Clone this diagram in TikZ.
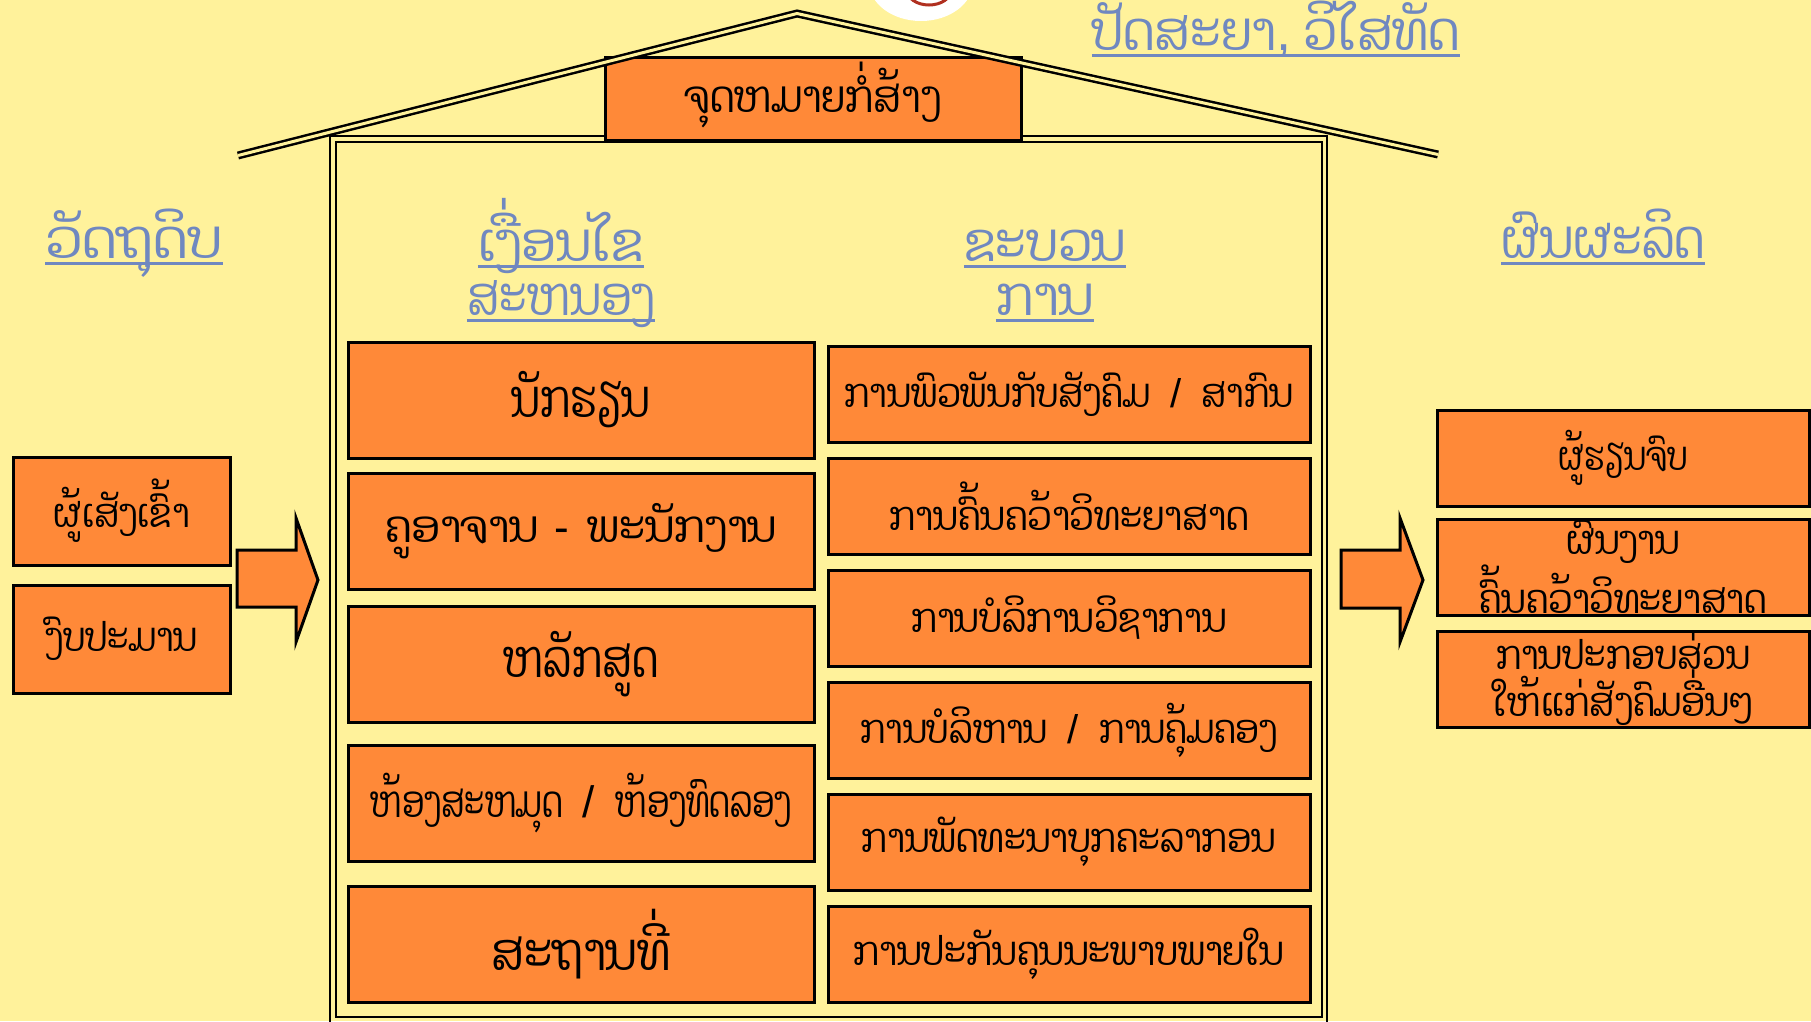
\documentclass[tikz,border=0pt]{standalone}
\usepackage{fontspec}
\setmainfont[Script=Lao]{Dhyana}
\newfontfamily\latf{Liberation Sans}
\definecolor{bgY}{RGB}{255,242,155}
\definecolor{boxO}{RGB}{255,137,56}
\definecolor{hdB}{RGB}{112,136,192}
\definecolor{logoR}{RGB}{176,48,32}
\begin{document}
\begin{tikzpicture}[x=1pt,y=-1pt,
  obox/.style={draw=black, line width=3pt, fill=boxO, inner sep=0pt, align=center},
  lcol/.style={obox, minimum width=466pt, minimum height=116pt},
  rcol/.style={obox, minimum width=482pt, minimum height=96pt},
  sbox/.style={obox, minimum width=217pt, minimum height=108pt},
  obx/.style={obox, minimum width=372pt, minimum height=96pt},
  fs/.style n args={3}{font=\fontsize{#1}{#2}\selectfont\addfontfeatures{FakeStretch=#3}},
  hd/.style={text=hdB, inner sep=0pt, anchor=base},
  ul/.style={draw=hdB, line width=3pt},
  blk/.style={draw=black, line width=3pt, fill=boxO, line join=miter}
]
\fill[bgY] (0,0) rectangle (1811,1021);
\useasboundingbox (0,0) rectangle (1811,1021);
\clip (0,0) rectangle (1811,1021);
% logo fragment
\fill[white] (921,-18) ellipse [x radius=52, y radius=39];
\draw[logoR, line width=3pt] (929,-10) ellipse [x radius=22, y radius=15];
% house body
\draw[line width=2.5pt] (330,136) rectangle (1327,1030);
\draw[line width=2.5pt] (336,142) rectangle (1322,1017);
% top box
\node[obox, minimum width=416pt, minimum height=83pt, text height=30pt, text depth=3pt, fs={44}{52}{0.87}] (goal) at (813,98.5) {ຈຸດຫມາຍກໍ່ສ້າງ};
% roof
\draw[line width=2.5pt, double=bgY, double distance=3pt] (238,155.5) -- (797,13.5) -- (1438,154.5);
% headings
\node[hd, fs={54}{60}{0.91}] (h0) at (1276,50) {ປັດສະຍາ{\latf,} ວິໄສທັດ};
\draw[ul] ([yshift=-5pt]h0.base west) -- ([yshift=-5pt]h0.base east);
\node[hd, fs={54}{60}{1.0}] (h1) at (134,258) {ວັດຖຸດິບ};
\draw[ul] ([yshift=-5pt]h1.base west) -- ([yshift=-5pt]h1.base east);
\node[hd, fs={54}{60}{0.93}] (h2a) at (561,261) {ເງື່ອນໄຂ};
\draw[ul] ([yshift=-5pt]h2a.base west) -- ([yshift=-5pt]h2a.base east);
\node[hd, fs={54}{60}{0.82}] (h2b) at (561,315) {ສະຫນອງ};
\draw[ul] ([yshift=-5pt]h2b.base west) -- ([yshift=-5pt]h2b.base east);
\node[hd, fs={54}{60}{0.91}] (h3a) at (1045,261) {ຂະບວນ};
\draw[ul] ([yshift=-5pt]h3a.base west) -- ([yshift=-5pt]h3a.base east);
\node[hd, fs={54}{60}{0.94}] (h3b) at (1045,315) {ການ};
\draw[ul] ([yshift=-5pt]h3b.base west) -- ([yshift=-5pt]h3b.base east);
\node[hd, fs={54}{60}{0.88}] (h4) at (1603,258) {ຜົນຜະລິດ};
\draw[ul] ([yshift=-5pt]h4.base west) -- ([yshift=-5pt]h4.base east);
% left column
\node[lcol, fs={52}{60}{0.79}] (l1) at (581,400) {ນັກຮຽນ};
\node[lcol, fs={44}{52}{0.95}] (l2) at (581,531) {ຄູອາຈານ\hspace{16pt}{\latf -}\hspace{18pt}ພະນັກງານ};
\node[lcol, fs={52}{60}{0.79}] (l3) at (581,664) {ຫລັກສູດ};
\node[lcol, fs={44}{52}{0.735}] (l4) at (581,803) {ຫ້ອງສະຫມຸດ\hspace{20pt}{\latf /}\hspace{20pt}ຫ້ອງທົດລອງ};
\node[lcol, fs={52}{60}{0.87}] (l5) at (581,944) {ສະຖານທີ່};
% right column
\node[rcol, fs={40}{48}{0.86}] (r1) at (1069,394) {ການພົວພັນກັບສັງຄົມ\hspace{20pt}{\latf /}\hspace{20pt}ສາກົນ};
\node[rcol, fs={40}{48}{0.89}] (r2) at (1069,506) {ການຄົ້ນຄວ້າວິທະຍາສາດ};
\node[rcol, fs={40}{48}{0.88}] (r3) at (1069,618) {ການບໍລິການວິຊາການ};
\node[rcol, fs={40}{48}{0.86}] (r4) at (1069,730) {ການບໍລິຫານ\hspace{20pt}{\latf /}\hspace{20pt}ການຄຸ້ມຄອງ};
\node[rcol, fs={40}{48}{0.877}] (r5) at (1069,842) {ການພັດທະນາບຸກຄະລາກອນ};
\node[rcol, fs={40}{48}{0.884}] (r6) at (1069,954) {ການປະກັນຄຸນນະພາບພາຍໃນ};
% inputs
\node[sbox, fs={40}{48}{0.866}] (i1) at (121.5,511) {ຜູ້ເສັງເຂົ້າ};
\node[sbox, fs={40}{48}{0.86}] (i2) at (121.5,639) {ງົບປະມານ};
% outputs
\node[obx, fs={40}{48}{0.79}] (o1) at (1623,458) {ຜູ້ຮຽນຈົບ};
\node[obx, fs={40}{44}{0.88}] (o2) at (1623,567) {ຜົນງານ\\ຄົ້ນຄວ້າວິທະຍາສາດ};
\node[obx, fs={40}{44}{0.86}] (o3) at (1623,679) {ການປະກອບສ່ວນ\\ໃຫ້ແກ່ສັງຄົມອື່ນໆ};
% block arrows
\draw[blk] (237,550) -- (296,550) -- (296,518) -- (318,580) -- (296,642) -- (296,607) -- (237,607) -- cycle;
\draw[blk] (1341,550) -- (1400,550) -- (1400,518) -- (1423,580) -- (1400,642) -- (1400,608) -- (1341,608) -- cycle;
\end{tikzpicture}
\end{document}
